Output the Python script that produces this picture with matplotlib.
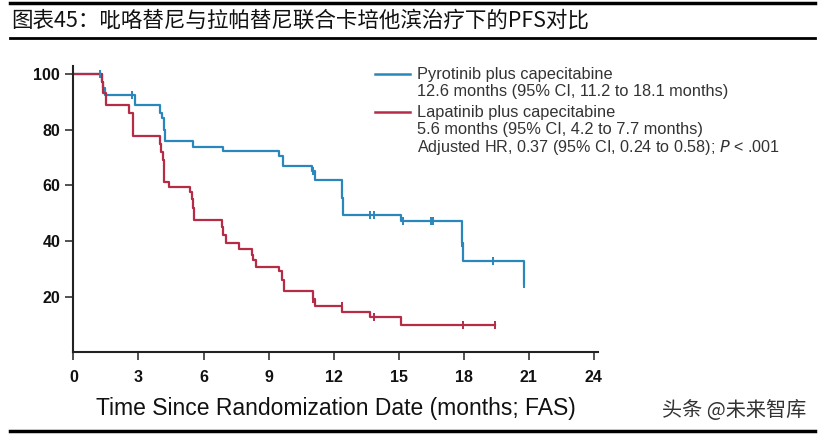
import matplotlib
matplotlib.use('Agg')
import matplotlib.pyplot as plt
from matplotlib.lines import Line2D

plt.rcParams['font.family'] = ['Liberation Sans', 'DejaVu Sans']

# Pyrotinib plus capecitabine (drop times, survival after drop)
pyro_t = [0, 1.3, 1.38, 1.45, 2.84, 4.0, 4.1, 4.18, 4.22, 5.53, 6.91, 9.5, 9.65,
          11.0, 11.15, 12.4, 12.45, 15.11, 17.9, 17.96, 20.76]
pyro_s = [100, 97, 95, 92.4, 89, 86, 84, 80, 76, 73.6, 72.3, 70.6, 67.1,
          65, 62, 55.5, 49.5, 47.1, 39.4, 32.8, 24.5]
pyro_cens_t = [1.22, 2.68, 11.07, 13.7, 13.84, 15.2, 16.48, 16.6, 17.9, 19.37, 20.76]
pyro_cens_s = [100, 92.4, 65, 49.5, 49.5, 47.1, 47.1, 47.1, 39.4, 32.8, 24.5]

# Lapatinib plus capecitabine
lapa_t = [0, 1.3, 1.38, 1.48, 2.58, 2.76, 3.99, 4.05, 4.12, 4.19, 4.42, 5.38, 5.45,
          5.5, 5.56, 6.84, 6.9, 7.04, 7.65, 8.22, 8.3, 8.42, 9.5, 9.6, 9.73,
          11.04, 11.15, 12.4, 13.7, 15.11, 19.45]
lapa_s = [100, 97, 93, 89, 86, 77.8, 75, 72, 69, 61.3, 59.5, 57.7, 55,
          52, 47.5, 45, 42, 39.4, 37.3, 35, 33, 30.7, 29.2, 26, 22.1,
          19.0, 16.6, 14.6, 12.6, 9.8, 9.8]
lapa_cens_t = [11.07, 12.39, 13.84, 17.99, 19.45]
lapa_cens_s = [19.0, 16.6, 12.6, 9.8, 9.8]

x_ticks = [0, 3, 6, 9, 12, 15, 18, 21, 24]
y_ticks = [20, 40, 60, 80, 100]

blue = '#2a87bb'
red = '#b42c46'

fig = plt.figure(figsize=(8.25, 4.34), dpi=100)
ax = fig.add_axes([0.089, 0.188, 0.636, 0.661])

ax.step(pyro_t, pyro_s, where='post', color=blue, lw=1.6)
ax.step(lapa_t, lapa_s, where='post', color=red, lw=1.6)
ax.plot(pyro_cens_t, pyro_cens_s, ls='none', marker='|', ms=6, mew=1.4, color=blue)
ax.plot(lapa_cens_t, lapa_cens_s, ls='none', marker='|', ms=6, mew=1.4, color=red)

ax.set_xlim(0, 24.2)
ax.set_ylim(0, 103)
ax.set_xticks(x_ticks)
ax.set_yticks(y_ticks)
ax.tick_params(axis='both', direction='out', length=5.5, width=1.3, color='#444444',
               labelsize=11.5, labelcolor='#111111')
ax.tick_params(axis='x', pad=7)
ax.tick_params(axis='y', pad=4)
for lab in ax.get_xticklabels() + ax.get_yticklabels():
    lab.set_fontweight('bold')
for side in ['top', 'right']:
    ax.spines[side].set_visible(False)
for side in ['left', 'bottom']:
    ax.spines[side].set_linewidth(1.5)
    ax.spines[side].set_color('#222222')

ax.set_xlabel('Time Since Randomization Date (months; FAS)', fontsize=16.5,
              color='#111111', labelpad=9)

# legend block
fig.add_artist(Line2D([0.455, 0.497], [0.829, 0.829], color=blue, lw=1.8))
fig.add_artist(Line2D([0.455, 0.497], [0.741, 0.741], color=red, lw=1.8))
leg_lines = [
    (0.829, 'Pyrotinib plus capecitabine'),
    (0.790, '12.6 months (95% CI, 11.2 to 18.1 months)'),
    (0.741, 'Lapatinib plus capecitabine'),
    (0.701, '5.6 months (95% CI, 4.2 to 7.7 months)'),
]
for yy, txt in leg_lines:
    fig.text(0.506, yy, txt, fontsize=11.8, color='#333333', va='center')
fig.text(0.506, 0.660, 'Adjusted HR, 0.37 (95% CI, 0.24 to 0.58); $\\it{P}$ < .001',
         fontsize=11.6, color='#333333', va='center')

# title and frame lines
fig.text(0.014, 0.953, '图表45：吡咯替尼与拉帕替尼联合卡培他滨治疗下的PFS对比', fontsize=15.5,
         family=['Noto Sans CJK SC', 'DejaVu Sans'], va='center', color='#111111')
fig.add_artist(Line2D([0.012, 0.988], [0.992, 0.992], color='black', lw=2.5))
fig.add_artist(Line2D([0.012, 0.988], [0.912, 0.912], color='black', lw=2.0))
fig.add_artist(Line2D([0.012, 0.988], [0.008, 0.008], color='black', lw=2.5))

fig.text(0.803, 0.055, '头条 @未来智库', fontsize=14.5,
         family=['Noto Sans CJK SC', 'DejaVu Sans'], color='#333333', va='center')

fig.savefig('out.png', dpi=100)
